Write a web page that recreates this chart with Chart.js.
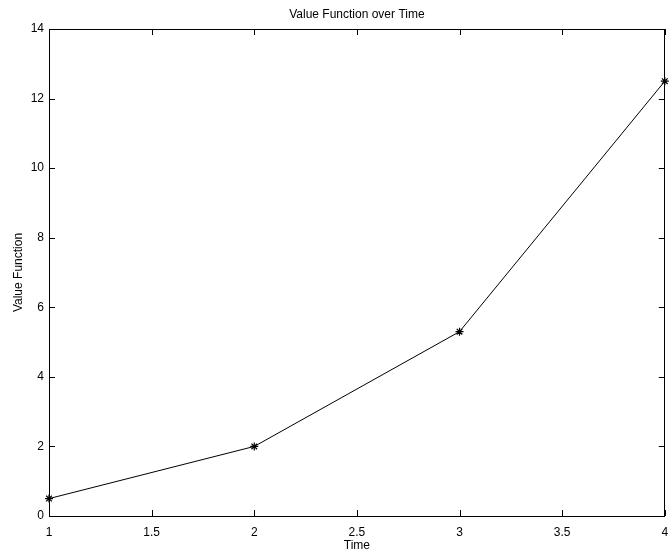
<!DOCTYPE html>
<html>
<head>
<meta charset="utf-8">
<script src="https://cdn.jsdelivr.net/npm/chart.js@4.4.1/dist/chart.umd.min.js"></script>
<style>
  html, body { margin: 0; padding: 0; background: #ffffff; }
  #wrap { width: 670px; height: 554px; position: relative; }
</style>
</head>
<body>
<div id="wrap"><canvas id="chart"></canvas></div>
<script>
// Value function sampled at each time step
const timeSteps = [1, 2, 3, 4];
const valueFunction = [0.5, 2, 5.3, 12.5];
const xTicks = [1, 1.5, 2, 2.5, 3, 3.5, 4];
const yTicks = [0, 2, 4, 6, 8, 10, 12, 14];

const FONT = "'Liberation Sans', Arial, Helvetica, sans-serif";

// Inward tick marks on all four sides of the box
const innerTicks = {
  id: 'innerTicks',
  afterDraw(chart) {
    const { ctx, chartArea: a, scales } = chart;
    const len = 6;
    ctx.save();
    ctx.strokeStyle = '#000';
    ctx.lineWidth = 1;
    ctx.beginPath();
    xTicks.forEach(v => {
      const px = Math.round(scales.x.getPixelForValue(v)) + 0.5;
      ctx.moveTo(px, a.bottom); ctx.lineTo(px, a.bottom - len);
      ctx.moveTo(px, a.top); ctx.lineTo(px, a.top + len);
    });
    yTicks.forEach(v => {
      const py = Math.round(scales.y.getPixelForValue(v)) + 0.5;
      ctx.moveTo(a.left, py); ctx.lineTo(a.left + len, py);
      ctx.moveTo(a.right, py); ctx.lineTo(a.right - len, py);
    });
    ctx.stroke();
    ctx.restore();
  }
};

const tickCallback = (list) => (value) => list.includes(value) ? String(value) : '';
const noSidePadding = s => { s.paddingLeft = 0; s.paddingRight = 0; };

new Chart(document.getElementById('chart'), {
  type: 'scatter',
  data: {
    datasets: [{
      data: timeSteps.map((t, i) => ({ x: t, y: valueFunction[i] })),
      showLine: true,
      borderColor: '#000',
      borderWidth: 1,
      pointStyle: 'star',
      pointRadius: 4,
      pointBorderColor: '#000',
      pointBorderWidth: 1.2,
      pointBackgroundColor: '#000',
      pointHoverRadius: 4,
      clip: false
    }]
  },
  options: {
    responsive: true,
    maintainAspectRatio: false,
    animation: false,
    events: [],
    layout: { padding: { left: 0, right: 2, top: 0, bottom: 0 } },
    plugins: {
      legend: { display: false },
      tooltip: { enabled: false },
      title: { display: false }
    },
    scales: {
      x: {
        type: 'linear',
        position: 'bottom',
        min: 1, max: 4,
        afterBuildTicks: s => { s.ticks = xTicks.map(v => ({ value: v })); },
        afterFit: s => { s.height = 38; noSidePadding(s); },
        grid: { display: false, drawTicks: false },
        border: { display: true, color: '#000', width: 1 },
        ticks: {
          color: '#000', padding: 9, maxRotation: 0, autoSkip: false,
          font: { family: FONT, size: 12 },
          callback: tickCallback(xTicks)
        },
        title: {
          display: true, text: 'Time', color: '#000',
          font: { family: FONT, size: 12 },
          padding: { top: 0, bottom: 1 }
        }
      },
      xTop: {
        type: 'linear',
        position: 'top',
        min: 1, max: 4,
        afterFit: s => { s.height = 29; noSidePadding(s); },
        grid: { display: false, drawTicks: false },
        border: { display: true, color: '#000', width: 1 },
        ticks: { display: false },
        title: {
          display: true, text: 'Value Function over Time', color: '#000',
          font: { family: FONT, size: 12 },
          padding: { top: 7, bottom: 0 }
        }
      },
      y: {
        type: 'linear',
        position: 'left',
        min: 0, max: 14,
        afterBuildTicks: s => { s.ticks = yTicks.map(v => ({ value: v })); },
        afterFit: s => { s.width = 49; s.paddingTop = 0; s.paddingBottom = 0; },
        grid: { display: false, drawTicks: false },
        border: { display: true, color: '#000', width: 1 },
        ticks: {
          color: '#000', padding: 5, autoSkip: false,
          font: { family: FONT, size: 12 },
          callback: tickCallback(yTicks)
        },
        title: {
          display: true, text: 'Value Function', color: '#000',
          font: { family: FONT, size: 12 },
          padding: { top: 11, bottom: 0 }
        }
      },
      yRight: {
        type: 'linear',
        position: 'right',
        min: 0, max: 14,
        afterFit: s => { s.width = 0; s.paddingTop = 0; s.paddingBottom = 0; },
        grid: { display: false, drawTicks: false },
        border: { display: true, color: '#000', width: 1 },
        ticks: { display: false }
      }
    }
  },
  plugins: [innerTicks]
});
</script>
</body>
</html>
